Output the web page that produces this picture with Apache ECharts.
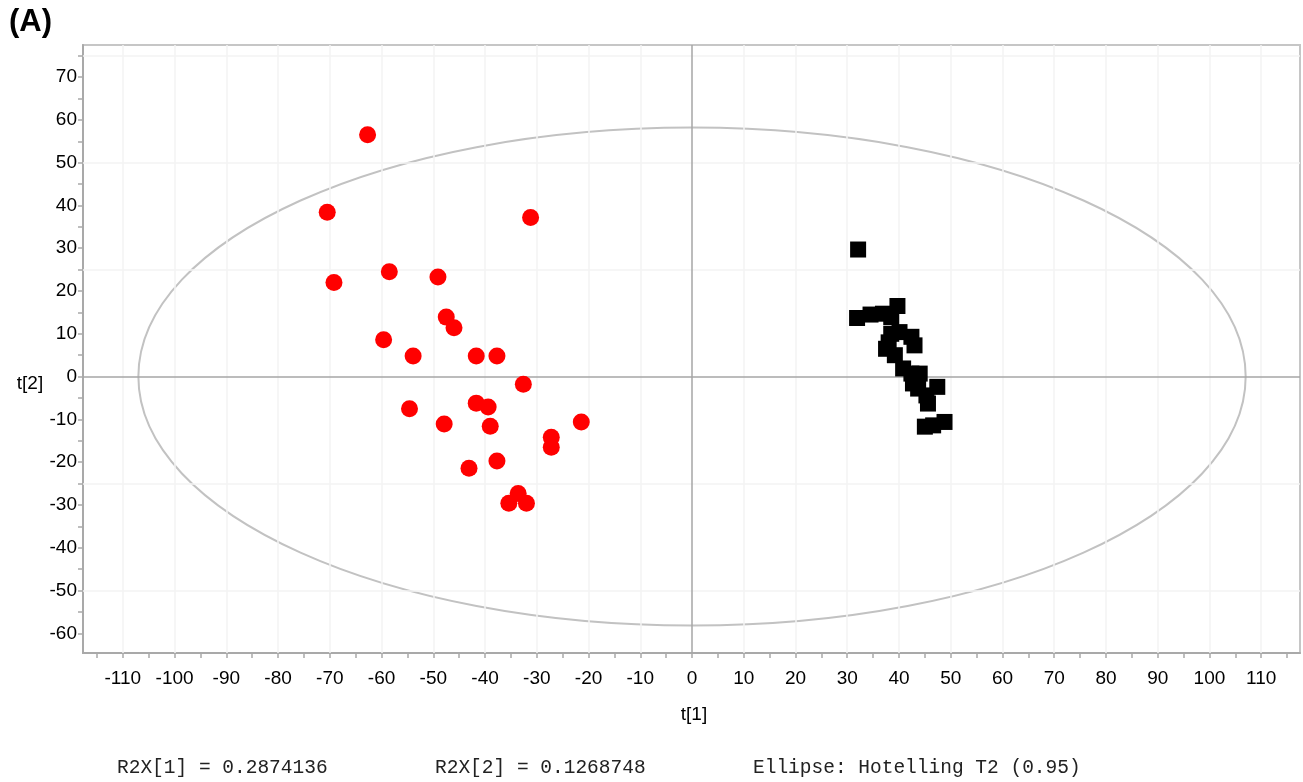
<!DOCTYPE html>
<html>
<head>
<meta charset="utf-8">
<script src="https://cdn.jsdelivr.net/npm/echarts@6/dist/echarts.min.js"></script>
<style>
html, body { margin: 0; padding: 0; background: #fff; }
#chart { width: 1303px; height: 782px; }
</style>
</head>
<body>
<div id="chart"></div>
<script>
// scores t[1], t[2]
var groupRed = [
    [-62.7, 56.5], [-70.5, 38.4], [-31.2, 37.2], [-69.2, 22.0], [-58.5, 24.5],
    [-49.1, 23.3], [-47.5, 13.9], [-46.0, 11.4], [-59.6, 8.6], [-53.9, 4.8],
    [-41.7, 4.8], [-37.7, 4.8], [-32.6, -1.8], [-54.6, -7.5], [-41.7, -6.2],
    [-39.4, -7.1], [-47.9, -11.1], [-39.0, -11.6], [-21.4, -10.6], [-27.2, -14.2],
    [-27.2, -16.5], [-37.7, -19.7], [-43.1, -21.4], [-33.6, -27.3], [-35.4, -29.6],
    [-32.0, -29.6]
];
var groupBlack = [
    [32.1, 29.7], [31.9, 13.7], [34.5, 14.5], [36.9, 14.7], [38.5, 13.9],
    [39.7, 16.5], [38.5, 10.0], [40.1, 10.4], [42.4, 9.3], [43.0, 7.3],
    [37.5, 6.5], [39.2, 5.0], [38.0, 8.0], [40.8, 1.9], [42.4, 0.7],
    [44.0, 0.7], [42.7, -1.6], [43.7, -2.8], [47.4, -2.4], [45.3, -4.4],
    [45.6, -6.3], [45.0, -11.7], [46.6, -11.4], [48.8, -10.6]
];

var xTicks = [-115, -110, -105, -100, -95, -90, -85, -80, -75, -70, -65, -60, -55, -50, -45, -40, -35, -30, -25, -20, -15, -10, -5, 0,
    5, 10, 15, 20, 25, 30, 35, 40, 45, 50, 55, 60, 65, 70, 75, 80, 85, 90, 95, 100, 105, 110, 115];
var xLabels = [-110, -100, -90, -80, -70, -60, -50, -40, -30, -20, -10, 0, 10, 20, 30, 40, 50, 60, 70, 80, 90, 100, 110];
var yTicks = [-60, -55, -50, -45, -40, -35, -30, -25, -20, -15, -10, -5, 0, 5, 10, 15, 20, 25, 30, 35, 40, 45, 50, 55, 60, 65, 70, 75];
var yLabels = [-60, -50, -40, -30, -20, -10, 0, 10, 20, 30, 40, 50, 60, 70];
var gridX = [-110, -100, -90, -80, -70, -60, -50, -40, -30, -20, -10, 10, 20, 30, 40, 50, 60, 70, 80, 90, 100, 110];
var gridY = [-50, -25, 25, 50, 75];

// Hotelling T2 (0.95) ellipse half-axes
var ellipseRx = 107;
var ellipseRy = 58.2;

var footer = ['R2X[1] = 0.2874136', 'R2X[2] = 0.1268748', 'Ellipse: Hotelling T2 (0.95)'];

var chart = echarts.init(document.getElementById('chart'));

var sans = '"Liberation Sans", Arial, sans-serif';
var mono = '"Liberation Mono", "Courier New", monospace';

chart.setOption({
    animation: false,
    backgroundColor: '#fff',
    grid: {
        left: 83, right: 3, top: 45, bottom: 129,
        show: true, borderColor: '#c6c6c6', borderWidth: 2
    },
    xAxis: {
        type: 'value', min: -117.7, max: 117.5,
        axisLine: { show: true, onZero: false, lineStyle: { color: '#a9a9a9', width: 2 } },
        axisTick: { show: true, customValues: xTicks, length: 5, lineStyle: { color: '#a9a9a9', width: 1.5 } },
        axisLabel: { customValues: xLabels, margin: 16, fontSize: 19, color: '#000', fontFamily: sans },
        splitLine: { show: false }
    },
    yAxis: {
        type: 'value', min: -64.6, max: 77.5,
        axisLine: { show: true, onZero: false, lineStyle: { color: '#a9a9a9', width: 2 } },
        axisTick: { show: true, customValues: yTicks, length: 5, lineStyle: { color: '#a9a9a9', width: 1.5 } },
        axisLabel: { customValues: yLabels, margin: 6, fontSize: 19, color: '#000', fontFamily: sans },
        splitLine: { show: false }
    },
    series: [
        {
            // faint grid
            type: 'line', data: [], z: 1, silent: true,
            markLine: {
                symbol: 'none', silent: true, label: { show: false },
                lineStyle: { color: '#f3f3f3', width: 1.5, type: 'solid' },
                data: gridX.map(function (v) { return { xAxis: v }; })
                    .concat(gridY.map(function (v) { return { yAxis: v }; }))
            }
        },
        {
            // zero lines
            type: 'line', data: [], z: 2, silent: true,
            markLine: {
                symbol: 'none', silent: true, label: { show: false },
                lineStyle: { color: '#a6a6a6', width: 1.5, type: 'solid' },
                data: [{ xAxis: 0 }, { yAxis: 0 }]
            }
        },
        {
            type: 'custom', z: 3, silent: true,
            data: [[0, 0]],
            renderItem: function (params, api) {
                var c = api.coord([0, 0]);
                var s = api.size([ellipseRx, ellipseRy]);
                return {
                    type: 'ellipse',
                    shape: { cx: c[0], cy: c[1], rx: s[0], ry: s[1] },
                    style: { fill: null, stroke: '#c2c2c2', lineWidth: 2 }
                };
            }
        },
        {
            type: 'scatter', z: 5, data: groupRed,
            symbol: 'circle', symbolSize: 17,
            itemStyle: { color: '#ff0000', opacity: 1 }
        },
        {
            type: 'scatter', z: 5, data: groupBlack,
            symbol: 'rect', symbolSize: 16,
            itemStyle: { color: '#000', opacity: 1 }
        }
    ],
    graphic: [
        { type: 'text', x: 9, y: 22, style: { text: '(A)', fill: '#000', font: 'bold 31px ' + sans, verticalAlign: 'middle' } },
        { type: 'text', x: 30, y: 384, style: { text: 't[2]', fill: '#000', font: '19px ' + sans, align: 'center', verticalAlign: 'middle' } },
        { type: 'text', x: 694, y: 715, style: { text: 't[1]', fill: '#000', font: '19px ' + sans, align: 'center', verticalAlign: 'middle' } },
        { type: 'text', x: 117, y: 768, style: { text: footer[0], fill: '#222', font: '19.5px ' + mono, verticalAlign: 'middle' } },
        { type: 'text', x: 435, y: 768, style: { text: footer[1], fill: '#222', font: '19.5px ' + mono, verticalAlign: 'middle' } },
        { type: 'text', x: 753, y: 768, style: { text: footer[2], fill: '#222', font: '19.5px ' + mono, verticalAlign: 'middle' } }
    ]
});
</script>
</body>
</html>
